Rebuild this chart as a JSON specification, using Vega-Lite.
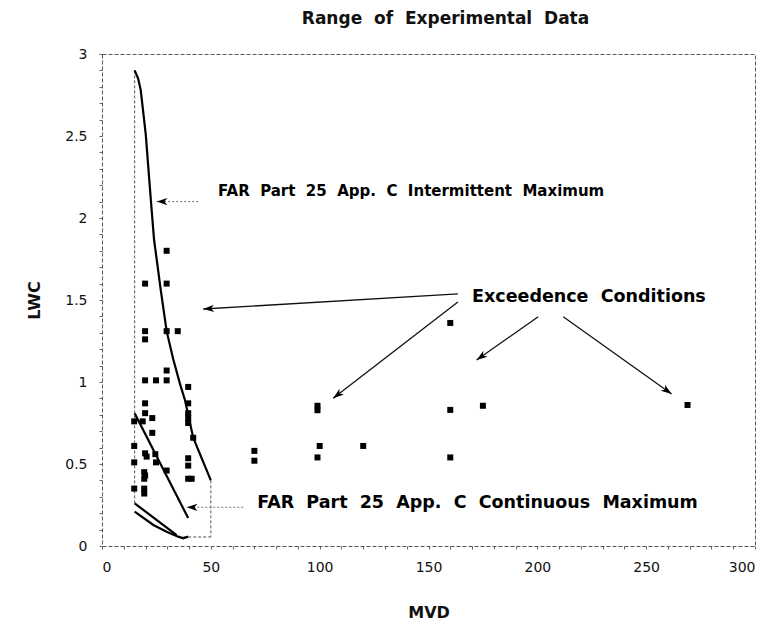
{
  "$schema": "https://vega.github.io/schema/vega-lite/v6.json",
  "width": 653,
  "height": 492,
  "autosize": {"type": "none"},
  "padding": {"left": 102, "top": 54, "right": 12, "bottom": 78},
  "background": "white",
  "title": {
    "text": "Range\u00a0 of\u00a0 Experimental\u00a0 Data",
    "font": "DejaVu Sans",
    "fontWeight": "bold",
    "fontSize": 17,
    "color": "#111",
    "anchor": "middle",
    "dx": 17,
    "offset": 19
  },
  "config": {
    "view": {"stroke": "#555", "strokeDash": [4, 2], "strokeWidth": 1},
    "axis": {"grid": false, "domain": false, "labelFont": "DejaVu Sans", "labelFontSize": 14, "labelColor": "#111", "titleFont": "DejaVu Sans", "titleFontWeight": "bold", "titleFontSize": 16, "titleColor": "#111", "tickColor": "#666", "tickSize": 3}
  },
  "datasets": {
    "points": [
      {"mvd": 29.7, "lwc": 1.80}, {"mvd": 19.8, "lwc": 1.60}, {"mvd": 29.7, "lwc": 1.60},
      {"mvd": 19.8, "lwc": 1.31}, {"mvd": 19.8, "lwc": 1.26}, {"mvd": 29.7, "lwc": 1.31}, {"mvd": 34.8, "lwc": 1.31},
      {"mvd": 29.7, "lwc": 1.07}, {"mvd": 19.8, "lwc": 1.01}, {"mvd": 24.8, "lwc": 1.01}, {"mvd": 29.7, "lwc": 1.01}, {"mvd": 39.6, "lwc": 0.97},
      {"mvd": 19.8, "lwc": 0.87}, {"mvd": 39.6, "lwc": 0.87}, {"mvd": 19.8, "lwc": 0.81}, {"mvd": 23.1, "lwc": 0.78}, {"mvd": 39.6, "lwc": 0.81}, {"mvd": 39.6, "lwc": 0.78}, {"mvd": 39.6, "lwc": 0.75},
      {"mvd": 14.8, "lwc": 0.76}, {"mvd": 18.7, "lwc": 0.76}, {"mvd": 23.1, "lwc": 0.69}, {"mvd": 41.9, "lwc": 0.66}, {"mvd": 14.8, "lwc": 0.61},
      {"mvd": 19.8, "lwc": 0.565}, {"mvd": 20.5, "lwc": 0.545}, {"mvd": 24.5, "lwc": 0.56}, {"mvd": 14.8, "lwc": 0.51}, {"mvd": 24.8, "lwc": 0.51},
      {"mvd": 39.6, "lwc": 0.535}, {"mvd": 39.6, "lwc": 0.49}, {"mvd": 29.7, "lwc": 0.46}, {"mvd": 19.4, "lwc": 0.45}, {"mvd": 19.4, "lwc": 0.41},
      {"mvd": 39.6, "lwc": 0.41}, {"mvd": 41.2, "lwc": 0.41}, {"mvd": 14.8, "lwc": 0.35}, {"mvd": 19.4, "lwc": 0.35}, {"mvd": 19.4, "lwc": 0.32}, {"mvd": 19.8, "lwc": 0.43},
      {"mvd": 70, "lwc": 0.58}, {"mvd": 70, "lwc": 0.52}, {"mvd": 99, "lwc": 0.855}, {"mvd": 99, "lwc": 0.828}, {"mvd": 100, "lwc": 0.61}, {"mvd": 99, "lwc": 0.54},
      {"mvd": 120, "lwc": 0.61}, {"mvd": 160, "lwc": 1.36}, {"mvd": 160, "lwc": 0.83}, {"mvd": 160, "lwc": 0.54}, {"mvd": 175, "lwc": 0.855}, {"mvd": 269, "lwc": 0.86}
    ],
    "curves": [
      {"series": "intermittent", "ord": 1, "mvd": 15, "lwc": 2.9},
      {"series": "intermittent", "ord": 2, "mvd": 16.6, "lwc": 2.85},
      {"series": "intermittent", "ord": 3, "mvd": 17.8, "lwc": 2.78},
      {"series": "intermittent", "ord": 4, "mvd": 20.1, "lwc": 2.51},
      {"series": "intermittent", "ord": 5, "mvd": 22.5, "lwc": 2.10},
      {"series": "intermittent", "ord": 6, "mvd": 23.9, "lwc": 1.87},
      {"series": "intermittent", "ord": 7, "mvd": 27.0, "lwc": 1.56},
      {"series": "intermittent", "ord": 8, "mvd": 29.7, "lwc": 1.31},
      {"series": "intermittent", "ord": 9, "mvd": 32.7, "lwc": 1.14},
      {"series": "intermittent", "ord": 10, "mvd": 35.8, "lwc": 0.99},
      {"series": "intermittent", "ord": 11, "mvd": 38.1, "lwc": 0.89},
      {"series": "intermittent", "ord": 12, "mvd": 39.6, "lwc": 0.80},
      {"series": "intermittent", "ord": 13, "mvd": 41.9, "lwc": 0.66},
      {"series": "intermittent", "ord": 14, "mvd": 50, "lwc": 0.40},
      {"series": "contA", "ord": 1, "mvd": 15, "lwc": 0.81},
      {"series": "contA", "ord": 2, "mvd": 39.6, "lwc": 0.17},
      {"series": "contB", "ord": 1, "mvd": 15, "lwc": 0.26},
      {"series": "contB", "ord": 2, "mvd": 34.3, "lwc": 0.067},
      {"series": "contC", "ord": 1, "mvd": 15, "lwc": 0.21},
      {"series": "contC", "ord": 2, "mvd": 23.6, "lwc": 0.128},
      {"series": "contC", "ord": 3, "mvd": 29.7, "lwc": 0.087},
      {"series": "contC", "ord": 4, "mvd": 35, "lwc": 0.057},
      {"series": "contC", "ord": 5, "mvd": 37.3, "lwc": 0.047},
      {"series": "contC", "ord": 6, "mvd": 39.6, "lwc": 0.057}
    ],
    "envelope": [
      {"series": "left", "ord": 1, "mvd": 15, "lwc": 2.9},
      {"series": "left", "ord": 2, "mvd": 15, "lwc": 0.26},
      {"series": "right", "ord": 1, "mvd": 50, "lwc": 0.40},
      {"series": "right", "ord": 2, "mvd": 50, "lwc": 0.055},
      {"series": "bottom", "ord": 1, "mvd": 35, "lwc": 0.055},
      {"series": "bottom", "ord": 2, "mvd": 50, "lwc": 0.055}
    ],
    "arrows": [
      {"arrow": "intermittent", "kind": "gray", "mvd": 44.2, "lwc": 2.10, "mvd2": 25.1, "lwc2": 2.10},
      {"arrow": "exc_a", "kind": "black", "mvd": 163.5, "lwc": 1.537, "mvd2": 46.5, "lwc2": 1.445},
      {"arrow": "exc_b", "kind": "black", "mvd": 163.5, "lwc": 1.488, "mvd2": 106.2, "lwc2": 0.901},
      {"arrow": "exc_c", "kind": "black", "mvd": 200.4, "lwc": 1.398, "mvd2": 172.1, "lwc2": 1.134},
      {"arrow": "exc_d", "kind": "black", "mvd": 211.9, "lwc": 1.398, "mvd2": 261.7, "lwc2": 0.927},
      {"arrow": "continuous", "kind": "gray", "mvd": 64.9, "lwc": 0.236, "mvd2": 38.9, "lwc2": 0.236}
    ],
    "labels": [
      {"group": "upper", "text": "FAR\u00a0 Part\u00a0 25\u00a0 App.\u00a0 C\u00a0 Intermittent\u00a0 Maximum", "mvd": 53.3, "lwc": 2.165},
      {"group": "lower", "text": "Exceedence\u00a0 Conditions", "mvd": 170, "lwc": 1.52},
      {"group": "lower", "text": "FAR\u00a0 Part\u00a0 25\u00a0 App.\u00a0 C\u00a0 Continuous\u00a0 Maximum", "mvd": 71.3, "lwc": 0.262}
    ]
  },
  "encoding": {
    "x": {
      "field": "mvd", "type": "quantitative",
      "scale": {"domain": [0, 300], "nice": false, "zero": false},
      "axis": {
        "title": "MVD",
        "values": [0, 10, 20, 30, 40, 50, 60, 70, 80, 90, 100, 110, 120, 130, 140, 150, 160, 170, 180, 190, 200, 210, 220, 230, 240, 250, 260, 270, 280, 290, 300],
        "labelExpr": "datum.value % 50 == 0 ? datum.label : ''",
        "labelPadding": 11,
        "titlePadding": 30
      }
    },
    "y": {
      "field": "lwc", "type": "quantitative",
      "scale": {"domain": [0, 3], "nice": false, "zero": false},
      "axis": {
        "title": "LWC",
        "values": [0, 0.1, 0.2, 0.3, 0.4, 0.5, 0.6, 0.7, 0.8, 0.9, 1, 1.1, 1.2, 1.3, 1.4, 1.5, 1.6, 1.7, 1.8, 1.9, 2, 2.1, 2.2, 2.3, 2.4, 2.5, 2.6, 2.7, 2.8, 2.9, 3],
        "format": "~g",
        "labelExpr": "round(datum.value * 10) % 5 == 0 ? datum.label : ''",
        "labelPadding": 12,
        "titlePadding": 22
      }
    }
  },
  "layer": [
    {
      "data": {"name": "envelope"},
      "mark": {"type": "line", "color": "#555", "strokeWidth": 1, "strokeDash": [3, 2]},
      "encoding": {"detail": {"field": "series"}, "order": {"field": "ord"}}
    },
    {
      "data": {"name": "curves"},
      "mark": {"type": "line", "color": "#000", "strokeWidth": 2.2},
      "encoding": {"detail": {"field": "series"}, "order": {"field": "ord"}}
    },
    {
      "data": {"name": "points"},
      "mark": {"type": "point", "shape": "square", "filled": true, "color": "#000", "size": 36, "opacity": 1}
    },
    {
      "data": {"name": "arrows"},
      "transform": [{"filter": "datum.kind == 'gray'"}],
      "mark": {"type": "rule", "color": "#777", "strokeWidth": 1, "strokeDash": [2, 2]},
      "encoding": {"x2": {"field": "mvd2"}, "y2": {"field": "lwc2"}}
    },
    {
      "data": {"name": "arrows"},
      "transform": [{"filter": "datum.kind == 'black'"}],
      "mark": {"type": "rule", "color": "#111", "strokeWidth": 1.3},
      "encoding": {"x2": {"field": "mvd2"}, "y2": {"field": "lwc2"}}
    },
    {
      "data": {"name": "arrows"},
      "transform": [{"calculate": "atan2((datum.mvd2 - datum.mvd) * 653 / 300, (datum.lwc2 - datum.lwc) * 164) * 180 / PI", "as": "heading"}],
      "mark": {"type": "point", "shape": "M0,0L-0.42,1.25L0,0.9L0.42,1.25Z", "filled": true, "color": "#000", "size": 300, "opacity": 1},
      "encoding": {
        "x": {"field": "mvd2", "type": "quantitative"},
        "y": {"field": "lwc2", "type": "quantitative"},
        "angle": {"field": "heading", "type": "quantitative", "scale": null}
      }
    },
    {
      "data": {"name": "labels"},
      "transform": [{"filter": "datum.group == 'upper'"}],
      "mark": {"type": "text", "align": "left", "baseline": "middle", "font": "DejaVu Sans", "fontWeight": "bold", "fontSize": 15, "color": "#000"},
      "encoding": {"text": {"field": "text"}}
    },
    {
      "data": {"name": "labels"},
      "transform": [{"filter": "datum.group == 'lower'"}],
      "mark": {"type": "text", "align": "left", "baseline": "middle", "font": "DejaVu Sans", "fontWeight": "bold", "fontSize": 17.5, "color": "#000"},
      "encoding": {"text": {"field": "text"}}
    }
  ]
}
